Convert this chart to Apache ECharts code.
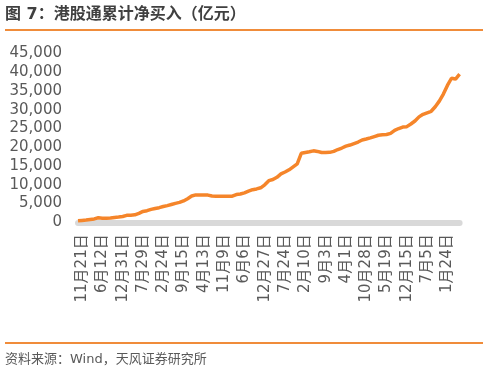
<!DOCTYPE html>
<html>
<head>
<meta charset="utf-8">
<script src="https://cdn.jsdelivr.net/npm/echarts@6/dist/echarts.min.js"></script>
<style>
html,body{margin:0;padding:0;background:#fff;}
#c{width:488px;height:372px;}
</style>
</head>
<body>
<div id="c"></div>
<script>
// Tick labels shown on the x axis (every 5th category, starting at index 1)
var tickLabels = ['11月21日','6月12日','12月31日','7月29日','2月24日','9月15日','4月13日','11月9日','6月6日','12月27日','7月24日','2月10日','9月3日','4月1日','10月28日','5月19日','12月15日','7月5日','1月24日'];

// Cumulative southbound net buying (亿元)
var cumNetBuy = [
  400, 500, 600, 750, 900, 1200, 1100, 1070, 1150, 1300,
  1400, 1550, 1850, 1900, 2000, 2400, 2900, 3100, 3450, 3700,
  3900, 4200, 4450, 4750, 5050, 5300, 5700, 6300, 7000, 7300,
  7300, 7280, 7250, 7000, 6950, 6930, 6930, 6950, 6950, 7400,
  7550, 7850, 8300, 8700, 8900, 9200, 10000, 11100, 11400, 12000,
  12900, 13400, 14000, 14800, 15600, 18400, 18600, 18800, 19050, 18900,
  18600, 18600, 18650, 18900, 19400, 19800, 20300, 20600, 21000, 21400,
  21950, 22200, 22500, 22850, 23200, 23350, 23400, 23700, 24500, 25000,
  25400, 25500, 26200, 27000, 28100, 28800, 29200, 29600, 30800, 32300,
  34200, 36500, 38400, 38200, 39500
];

var yTicks = [0, 5000, 10000, 15000, 20000, 25000, 30000, 35000, 40000, 45000];

var categories = cumNetBuy.map(function (v, i) {
  return ((i - 1) % 5 === 0 && i >= 1) ? tickLabels[(i - 1) / 5] : '';
});

var FONT = 'DejaVu Sans, Noto Sans CJK SC, sans-serif';
var chart = echarts.init(document.getElementById('c'), null, {renderer: 'canvas'});
chart.setOption({
  animation: false,
  backgroundColor: '#ffffff',
  grid: {left: 78, right: 28.4, top: 53.5, bottom: 149.7, containLabel: false},
  xAxis: {
    type: 'category',
    data: categories,
    boundaryGap: false,
    offset: 2,
    axisLine: {show: true, lineStyle: {color: '#d9d9d9', width: 6}},
    axisTick: {show: false},
    axisLabel: {
      interval: function (idx) { return idx >= 1 && (idx - 1) % 5 === 0; },
      rotate: 90,
      margin: 10,
      color: '#595959',
      fontSize: 15,
      fontFamily: FONT
    },
    splitLine: {show: false}
  },
  yAxis: {
    type: 'value',
    min: yTicks[0],
    max: yTicks[yTicks.length - 1],
    interval: 5000,
    axisLine: {show: false},
    axisTick: {show: false},
    splitLine: {show: false},
    axisLabel: {
      margin: 16,
      color: '#595959',
      fontSize: 15,
      fontFamily: FONT,
      formatter: function (v) { return v.toLocaleString('en-US'); }
    }
  },
  series: [{
    type: 'line',
    data: cumNetBuy,
    symbol: 'none',
    lineStyle: {color: '#F5852A', width: 3.5},
    z: 5
  }],
  graphic: [
    {type: 'text', left: 5, top: 7, style: {text: '图 7：港股通累计净买入（亿元）', fill: '#404040', font: 'bold 16px ' + FONT}},
    {type: 'rect', shape: {x: 5, y: 29, width: 478, height: 2}, style: {fill: '#F08C3A'}},
    {type: 'rect', shape: {x: 5, y: 342, width: 478, height: 2}, style: {fill: '#F08C3A'}},
    {type: 'text', left: 5, top: 353, style: {text: '资料来源：Wind，天风证券研究所', fill: '#595959', font: '13px ' + FONT}}
  ]
});
</script>
</body>
</html>
